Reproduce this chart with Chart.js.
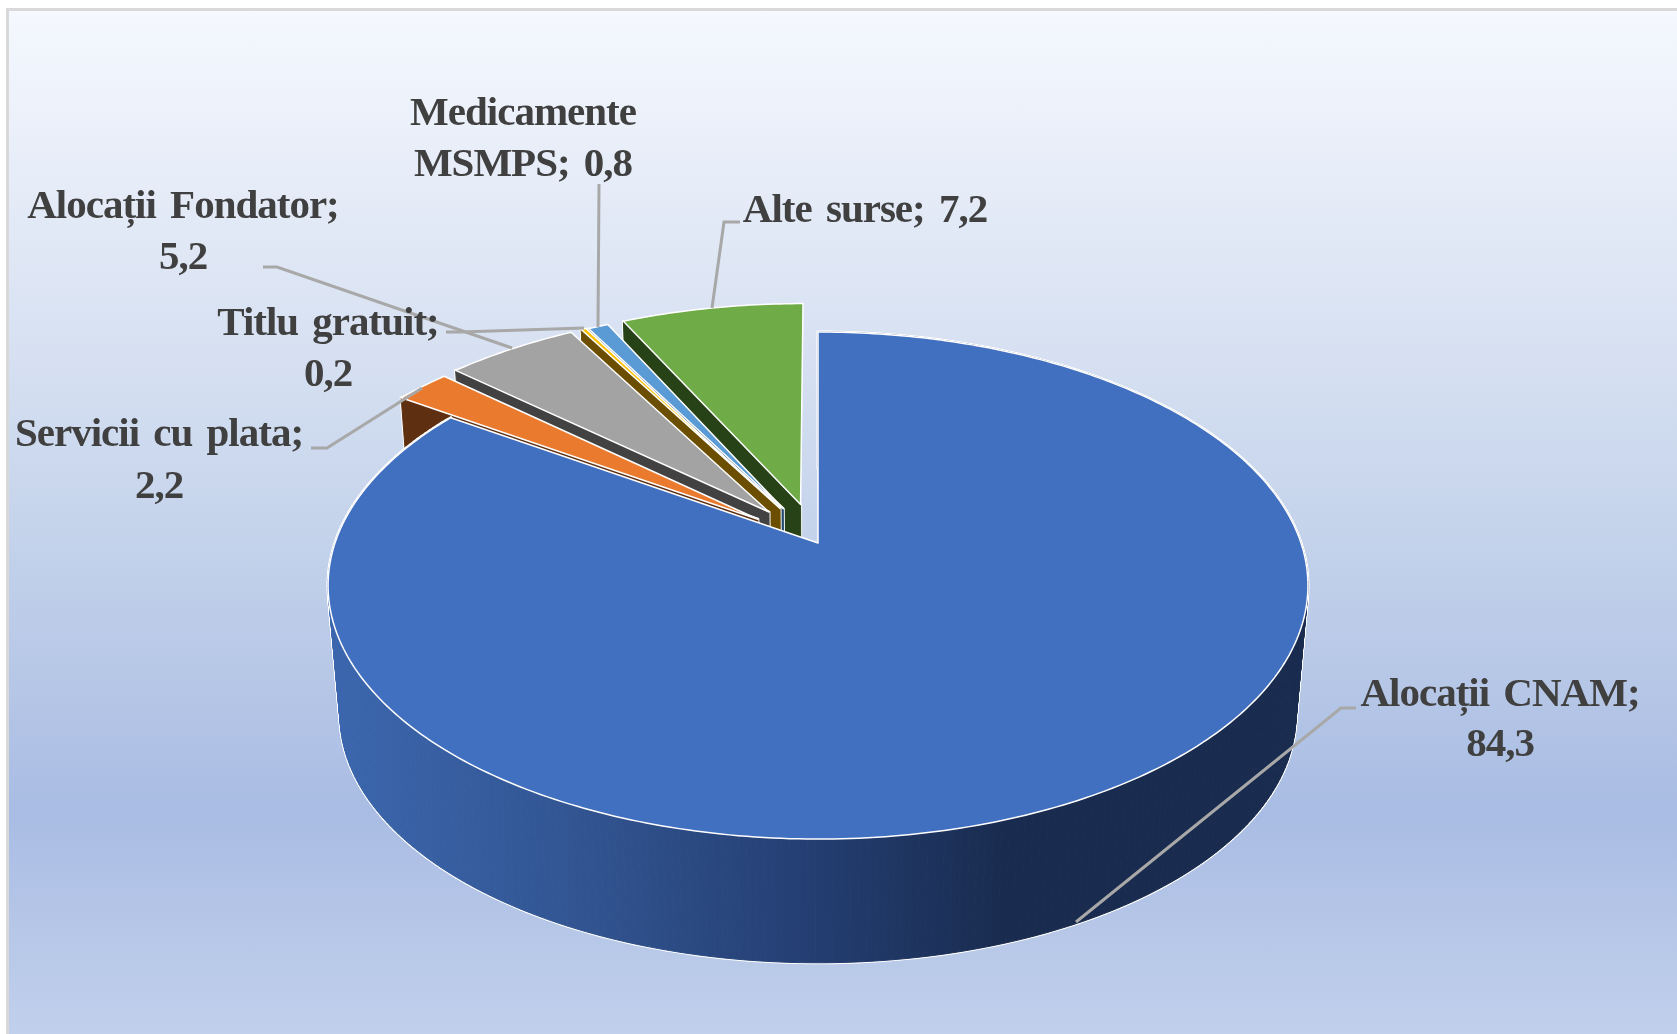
<!DOCTYPE html>
<html>
<head>
<meta charset="utf-8">
<title>Surse de finantare</title>
<script src="https://cdn.jsdelivr.net/npm/chart.js@4/dist/chart.umd.min.js"></script>
<style>
    html, body { margin: 0; padding: 0; background: #fff; overflow: hidden; }
    #frame {
        position: absolute; left: 6px; top: 8px; width: 1700px; height: 1060px;
        border: 3px solid #d9d9d9; box-sizing: border-box;
        background: linear-gradient(to bottom, #f5f8fe 0%, #dae3f3 29%, #c2d1ea 52%, #a9bce3 76%, #c4d3ed 100%);
    }
    #chart { position: absolute; left: 0; top: 0; filter: blur(0.5px); }
</style>
</head>
<body>
<div id="frame"></div>
<canvas id="chart" width="1677" height="1034"></canvas>
<script>
var categories = ['Alocații CNAM', 'Servicii cu plata', 'Alocații Fondator', 'Titlu gratuit', 'Medicamente MSMPS', 'Alte surse'];
var shares = [84.3, 2.2, 5.2, 0.2, 0.8, 7.2];

var faceColors = ['#4270c0', '#ea7b2e', '#a3a3a3', '#ffc000', '#5b9bd5', '#6fab46'];
var wallColors = ['#1a2c50', '#5e2f11', '#424242', '#6b4e00', '#25496e', '#274217'];
var explode = [0, 0.16, 0.165, 0.165, 0.16, 0.165];

// Label anchors and leader lines, page pixels
var labelSplit = ['; ', '; ', '; ', '; ', ' ', null];
var labelX = [1500, 159, 183, 328, 523, 865];
var labelY = [706, 446, 218, 335, 125, 222];
var labelGap = [50, 52, 51, 51, 51, 0];
var leaders = [
    [[1356, 708], [1341, 708], [1076, 922]],
    [[311, 448], [327, 448], [422, 388]],
    [[263, 267], [277, 267], [512, 348]],
    [[446, 332], [461, 332], [584, 328]],
    [[599, 184], [598, 327]],
    [[740, 222], [724, 222], [712, 308]]
];

// Tilted disc: unit circle to page, near side larger than far side
var tipX = 818, tipY = 543;
var spreadX = 483, spreadY = 246.4, persp = -0.1677;
var floorScale = 0.9755, floorDrop = 131;

function project(u, v, floor) {
    var k = 1 + persp * v;
    var s = floor ? floorScale : 1;
    return { x: tipX + s * spreadX * u / k, y: tipY + s * spreadY * v / k + (floor ? floorDrop : 0) };
}

function sliceGeometry(arc) {
    var fix = (arc.options.offset || 0) / arc.outerRadius;
    var mid = (arc.startAngle + arc.endAngle) / 2;
    var du = Math.cos(mid) * fix, dv = Math.sin(mid) * fix;
    var steps = Math.max(2, Math.ceil((arc.endAngle - arc.startAngle) / 0.015));
    var rim = [];
    for (var i = 0; i <= steps; i++) {
        var a = arc.startAngle + (arc.endAngle - arc.startAngle) * i / steps;
        rim.push([du + Math.cos(a), dv + Math.sin(a)]);
    }
    return { du: du, dv: dv, rim: rim };
}

function tracePoly(ctx, pts) {
    ctx.beginPath();
    pts.forEach(function(p, i) {
        if (i === 0) { ctx.moveTo(p.x, p.y); } else { ctx.lineTo(p.x, p.y); }
    });
    ctx.closePath();
}

function sideGradient(ctx) {
    var g = ctx.createLinearGradient(340, 0, 1010, 0);
    g.addColorStop(0, '#3b66ad');
    g.addColorStop(0.35, '#325592');
    g.addColorStop(0.72, '#233d70');
    g.addColorStop(1, '#192b4e');
    return g;
}

function drawSlice(ctx, arc, index) {
    var geo = sliceGeometry(arc);
    var quads = [];
    if (index === 0) {
        // only the big slice shows its rim, the small ones face away
        for (var i = 0; i < geo.rim.length - 1; i++) {
            var p = geo.rim[i], q = geo.rim[i + 1];
            quads.push([project(p[0], p[1]), project(q[0], q[1]), project(q[0], q[1], true), project(p[0], p[1], true)]);
        }
    } else {
        var s = geo.rim[0];
        quads.push([project(geo.du, geo.dv), project(s[0], s[1]), project(s[0], s[1], true), project(geo.du, geo.dv, true)]);
    }

    // white halo first, then the solid side on top of it
    ctx.lineJoin = 'round';
    ctx.strokeStyle = '#ffffff';
    ctx.lineWidth = 3;
    quads.forEach(function(q) { tracePoly(ctx, q); ctx.stroke(); });

    var side = index === 0 ? sideGradient(ctx) : wallColors[index];
    ctx.fillStyle = side;
    ctx.strokeStyle = side;
    ctx.lineWidth = 1;
    quads.forEach(function(q) { tracePoly(ctx, q); ctx.fill(); ctx.stroke(); });

    var face = [project(geo.du, geo.dv)];
    geo.rim.forEach(function(p) { face.push(project(p[0], p[1])); });
    tracePoly(ctx, face);
    ctx.fillStyle = faceColors[index];
    ctx.fill();
    ctx.strokeStyle = '#ffffff';
    ctx.lineWidth = 1.5;
    ctx.stroke();
}

var tiltedPie = {
    id: 'tiltedPie',
    beforeDatasetsDraw: function(chart) {
        var ctx = chart.ctx;
        var arcs = chart.getDatasetMeta(0).data;
        ctx.save();
        // far slices first, the big one covers the walls it hides
        for (var i = arcs.length - 1; i >= 0; i--) {
            drawSlice(ctx, arcs[i], i);
        }
        ctx.restore();
        return false;
    },
    afterDraw: function(chart) {
        var ctx = chart.ctx;
        ctx.save();
        ctx.strokeStyle = '#a8a8a8';
        ctx.lineWidth = 3;
        leaders.forEach(function(line) {
            ctx.beginPath();
            line.forEach(function(p, i) {
                if (i === 0) { ctx.moveTo(p[0], p[1]); } else { ctx.lineTo(p[0], p[1]); }
            });
            ctx.stroke();
        });

        ctx.font = 'bold 41px "Liberation Serif"';
        ctx.fillStyle = '#404040';
        ctx.textAlign = 'center';
        ctx.textBaseline = 'alphabetic';
        ctx.wordSpacing = '5px';
        ctx.letterSpacing = '-1px';
        categories.forEach(function(name, i) {
            var text = name + '; ' + String(shares[i]).replace('.', ',');
            var lines = [text];
            if (labelSplit[i]) {
                var at = text.indexOf(labelSplit[i]);
                lines = [text.slice(0, at + labelSplit[i].length - 1), text.slice(at + labelSplit[i].length)];
            }
            lines.forEach(function(line, n) {
                ctx.fillText(line, labelX[i], labelY[i] + n * labelGap[i]);
            });
        });
        ctx.restore();
    }
};

new Chart(document.getElementById('chart'), {
    type: 'pie',
    data: {
        labels: categories,
        datasets: [{
            data: shares,
            backgroundColor: faceColors,
            borderColor: '#ffffff',
            borderWidth: 2,
            offset: explode.map(function(f) { return f * 400; })
        }]
    },
    options: {
        responsive: false,
        animation: false,
        radius: 400,
        plugins: {
            legend: { display: false },
            tooltip: { enabled: false }
        }
    },
    plugins: [tiltedPie]
});
</script>
</body>
</html>
